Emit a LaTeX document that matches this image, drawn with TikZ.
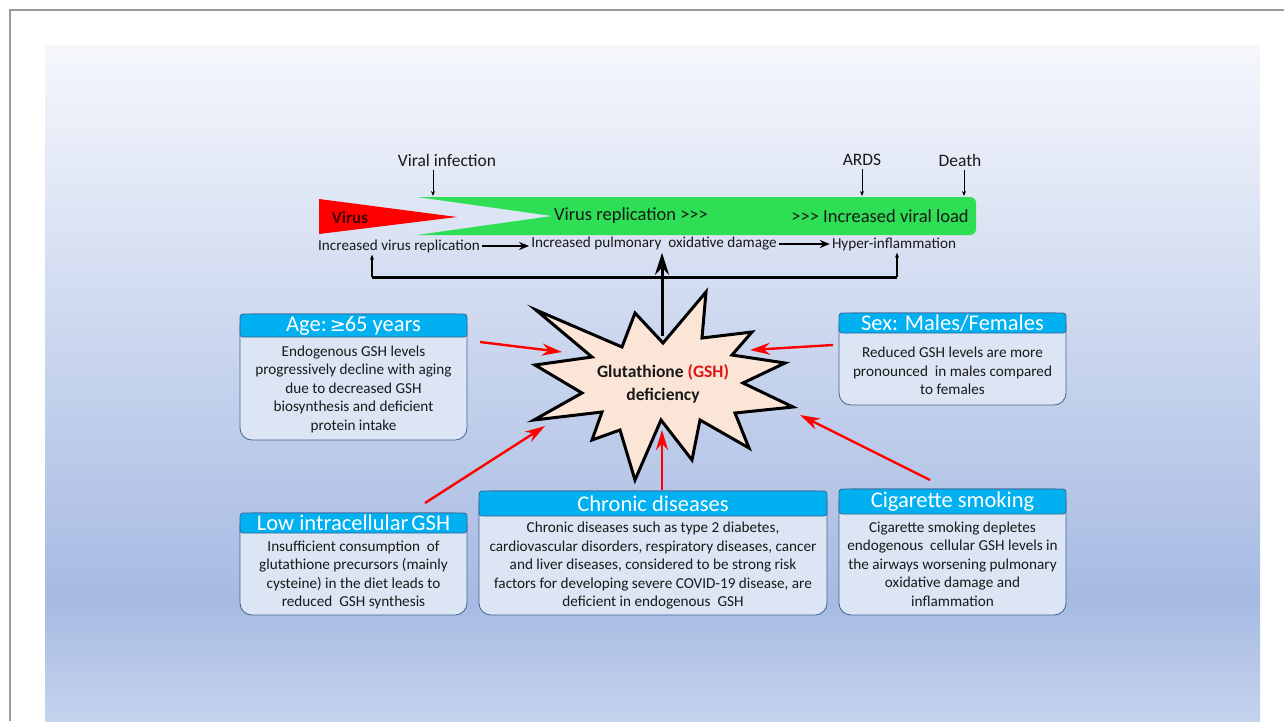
\documentclass[tikz,border=0pt]{standalone}
\usepackage{fontspec}
\setmainfont{Carlito}
\newfontfamily\symfont{DejaVu Sans}
\usetikzlibrary{positioning,arrows.meta}

\definecolor{headblue}{RGB}{0,176,240}
\definecolor{cardfill}{RGB}{220,229,244}
\definecolor{cardline}{RGB}{62,98,148}
\definecolor{bandgreen}{RGB}{46,222,84}
\definecolor{starfill}{RGB}{251,229,214}
\definecolor{paneltop}{RGB}{245,247,252}
\definecolor{panelmid}{RGB}{166,186,226}
\definecolor{panelbot}{RGB}{197,211,237}
\definecolor{gshred}{RGB}{225,20,20}

\begin{document}
\begin{tikzpicture}[x=1pt, y=-1pt,
        card/.style={draw=cardline, fill=cardfill, line width=0.8pt, rounded corners=12pt},
        cardhead/.style={draw=cardline, fill=headblue, line width=0.8pt, rounded corners=3pt, text=white, inner sep=0pt, minimum height=23pt, font=\fontsize{22.5}{24}\selectfont},
        cardtext/.style={align=center, text=black!90, font=\fontsize{15.2}{18.5}\selectfont},
        tl/.style={text=black!90, font=\fontsize{17.5}{19}\selectfont},
        sub/.style={text=black!90, inner sep=2pt, font=\fontsize{15.2}{17}\selectfont},
        tick/.style={line width=0.8pt, -{Stealth[length=5pt,width=4pt]}},
        flow/.style={line width=2.4pt, -{Stealth[length=10pt,width=8pt]}},
        redarrow/.style={draw=red, line width=2.4pt, -{Stealth[length=20pt,width=12pt]}}
    ]
    \useasboundingbox (0,0) rectangle (1284,721);
    \fill[white] (0,0) rectangle (1284,721);
    \shade[top color=paneltop, bottom color=panelmid] (45,45) rectangle (1260,600);
    \shade[top color=panelmid, bottom color=panelbot] (45,599.5) rectangle (1260,721);
    \draw[black!40, line width=1.2pt] (10,721) -- (10,10) -- (1284,10);

    % timeline
    \fill[red] (319,199) -- (457,217) -- (319,234) -- cycle;
    \fill[bandgreen] (417,197) {[rounded corners=6pt] -- (976,197) -- (976,235)} -- (417,235) -- (552,216) -- cycle;
    \node[font=\bfseries\fontsize{17}{19}\selectfont, text=black!75!red] (virus) at (350,218) {Virus};
    \node[tl, font=\fontsize{18.5}{20}\selectfont] (vrep) at (631,216) {Virus replication >{}>{}>};
    \node[tl, font=\fontsize{18.5}{20}\selectfont] (vload) at (880,216) {>{}>{}> Increased viral load};

    \node[tl] (viral) at (447,160) {Viral infection};
    \node[tl] (ards)  at (862,160) {ARDS};
    \node[tl] (death) at (960,160) {Death};
    \coordinate (vin) at (433,196);
    \coordinate (ain) at (862,196);
    \coordinate (din) at (964,196);
    \draw[tick] (viral.south -| vin) -- (vin);
    \draw[tick] (ards.south -| ain) -- (ain);
    \draw[tick] (death.south -| din) -- (din);

    \node[sub] (rep) at (399,246) {Increased virus replication};
    \node[sub] (dmg) at (654,244) {Increased pulmonary~ oxidative damage};
    \node[sub] (hyp) at (894,244) {Hyper-inflammation};
    \draw[flow] (rep.east) -- (rep.east -| dmg.west);
    \draw[flow] (dmg.east) -- (dmg.east -| hyp.west);

    \coordinate (bl) at (372,277);
    \coordinate (br) at (897,277);
    \draw[line width=3pt] (bl) -- (br);
    \draw[tick, line width=1.4pt] (bl) -- (bl |- rep.south);
    \draw[tick, line width=1.4pt] (br) -- (br |- hyp.south);

    % starburst
    \draw[fill=starfill, line width=3pt, line join=miter]
        (536,310) -- (622,347) -- (635,313) -- (663,343) -- (706,292) -- (702,338)
        -- (752,332) -- (732,355) -- (785,363) -- (743,383) -- (793,407) -- (735,413)
        -- (749,448) -- (700,420) -- (692,460) -- (661,420) -- (635,480) -- (620,430)
        -- (592,440) -- (602,412) -- (534,420) -- (582,393) -- (535,365) -- (592,357) -- cycle;
    \node[align=center, font=\bfseries\fontsize{17.5}{23}\selectfont, text=black!90] (gsh) at (663,384)
        {Glutathione \textcolor{gshred}{(GSH)}\\deficiency};
    \coordinate (gtop) at (662,336);
    \draw[line width=3pt, -{Stealth[length=22pt,width=14pt]}] (gtop) -- (gtop |- dmg.south);

    % factor cards
    \node[card, minimum width=227pt, minimum height=126pt] (age) at (353.5,377) {};
    \node[cardhead, minimum width=227pt, anchor=north] (ageH) at (age.north) {Age:\kern-2pt\ {\symfont\fontsize{19}{20}\selectfont ≥}\kern-1pt65 years};
    \node[cardtext] (ageT) at (353.5,389) {Endogenous GSH levels\\progressively decline with aging\\due to decreased GSH\\biosynthesis and deficient\\protein intake};

    \node[card, minimum width=227pt, minimum height=92pt] (sex) at (952.5,359) {};
    \node[cardhead, minimum width=227pt, minimum height=20pt, anchor=north] (sexH) at (sex.north) {Sex: Males/Females};
    \node[cardtext] (sexT) at (952.5,371) {Reduced GSH levels are more\\pronounced~ in males compared\\to females};

    \node[card, minimum width=227pt, minimum height=102pt] (low) at (353.5,564) {};
    \node[cardhead, minimum width=227pt, minimum height=20pt, anchor=north] (lowH) at (low.north) {Low intracellular\kern-2pt\ GSH};
    \node[cardtext] (lowT) at (353.5,575) {Insufficient consumption~ of\\glutathione precursors (mainly\\cysteine) in the diet leads to\\reduced~ GSH synthesis};

    \node[card, minimum width=348pt, minimum height=124pt] (chr) at (653,553) {};
    \node[cardhead, minimum width=348pt, minimum height=25pt, anchor=north] (chrH) at (chr.north) {Chronic diseases};
    \node[cardtext] (chrT) at (653,566) {Chronic diseases such as type 2 diabetes,\\cardiovascular disorders, respiratory diseases, cancer\\and liver diseases, considered to be strong risk\\factors for developing severe COVID-19 disease, are\\deficient in endogenous~ GSH};

    \node[card, minimum width=227pt, minimum height=126pt] (cig) at (952.5,552) {};
    \node[cardhead, minimum width=227pt, minimum height=25pt, anchor=north] (cigH) at (cig.north) {Cigarette smoking};
    \node[cardtext] (cigT) at (952.5,564) {Cigarette smoking depletes\\endogenous~ cellular GSH levels in\\the airways worsening pulmonary\\oxidative damage and\\inflammation};

    % red arrows into the starburst
    \coordinate (ageA) at (480,342);
    \coordinate (ageB) at (562,352);
    \coordinate (sexA) at (833,345);
    \coordinate (sexB) at (750,350);
    \coordinate (lowA) at (425,503);
    \coordinate (lowB) at (545,426);
    \coordinate (chrA) at (662,490);
    \coordinate (chrB) at (662,430);
    \coordinate (cigA) at (930,480);
    \coordinate (cigB) at (800,415);
    \draw[redarrow] (ageA) -- (ageB);
    \draw[redarrow] (sexA) -- (sexB);
    \draw[redarrow] (lowA) -- (lowB);
    \draw[redarrow] (chrA) -- (chrB);
    \draw[redarrow] (cigA) -- (cigB);
\end{tikzpicture}
\end{document}
